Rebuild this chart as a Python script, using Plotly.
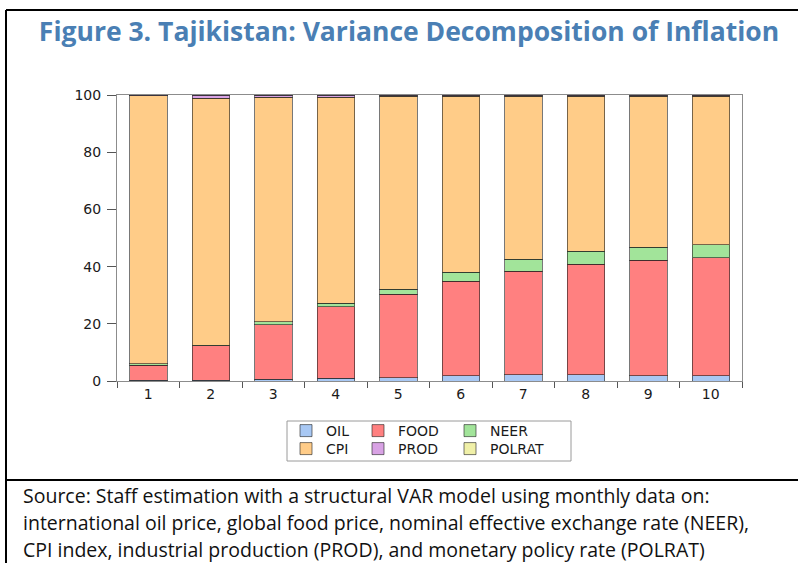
import plotly.graph_objects as go

# Forecast horizon (months)
periods = ["1", "2", "3", "4", "5", "6", "7", "8", "9", "10"]

# Share of inflation forecast-error variance explained by each shock (%)
oil = [0.2, 0.2, 0.7, 0.9, 1.2, 1.9, 2.2, 2.2, 1.9, 1.9]
food = [5.3, 12.1, 18.9, 25.0, 29.1, 32.9, 36.2, 38.6, 40.3, 41.2]
neer = [0.5, 0.2, 1.2, 1.3, 1.7, 3.3, 4.2, 4.5, 4.6, 4.6]
prod = [0.1, 1.0, 0.7, 0.6, 0.4, 0.3, 0.3, 0.3, 0.3, 0.3]
polrat = [0.1, 0.1, 0.1, 0.1, 0.1, 0.1, 0.1, 0.1, 0.1, 0.1]
cpi = [round(100 - o - f - n - p - r, 1) for o, f, n, p, r in zip(oil, food, neer, prod, polrat)]

# name, values, fill colour, legend id (one legend per key cell: 3 columns x 2 rows)
series = [
    ("OIL", oil, "#a8c8f4", "legend"),
    ("FOOD", food, "#ff8080", "legend2"),
    ("NEER", neer, "#a2e49a", "legend3"),
    ("CPI", cpi, "#ffcc88", "legend4"),
    ("PROD", prod, "#d8a2e4", "legend5"),
    ("POLRAT", polrat, "#f0f0a8", "legend6"),
]

# Page geometry in pixels, converted to paper coordinates
W, H = 798, 563
PL, PR, PT, PB = 117, 742, 95, 381


def px(x):
    return (x - PL) / (PR - PL)


def py(y):
    return (PB - y) / (PB - PT)


fig = go.Figure()
for name, vals, color, leg in series:
    fig.add_trace(go.Bar(
        x=periods, y=vals, name=name, legend=leg,
        marker=dict(color=color, line=dict(color="rgba(30,30,30,0.6)", width=1)),
        width=0.6,
    ))

axis_font = dict(family="DejaVu Sans", size=14, color="#1a1a1a")
legend_font = dict(family="DejaVu Sans", size=14, color="#1a1a1a")

# key cell positions (left x, top y) in pixels
key_cols = [286, 358, 450]
key_rows = [415, 433]
legend_layout = {}
for i, (_, _, _, leg) in enumerate(series):
    legend_layout[leg] = dict(
        orientation="h",
        x=px(key_cols[i % 3]), y=py(key_rows[i // 3]),
        xanchor="left", yanchor="top",
        font=legend_font, bgcolor="rgba(0,0,0,0)", borderwidth=0,
        itemclick=False, itemdoubleclick=False,
    )

fig.update_layout(
    width=W, height=H,
    margin=dict(l=PL, r=W - PR, t=PT, b=H - PB, pad=0),
    paper_bgcolor="white", plot_bgcolor="white",
    barmode="stack",
    showlegend=True,
    title=dict(
        text="<b>Figure 3. Tajikistan: Variance Decomposition of Inflation</b>",
        font=dict(family="Open Sans", size=26.5, color="#4a7fb4"),
        x=px(409), xref="paper", xanchor="center",
        y=1 - 32 / H, yref="container", yanchor="middle",
    ),
    xaxis=dict(
        type="category", range=[-0.5, 9.5],
        showline=True, linecolor="#8c8c8c", linewidth=1, mirror=True,
        ticks="outside", tickson="boundaries", ticklen=6, tickcolor="#555555",
        tickfont=axis_font, showgrid=False, zeroline=False,
    ),
    yaxis=dict(
        range=[0, 100], tickvals=[0, 20, 40, 60, 80, 100],
        showline=True, linecolor="#8c8c8c", linewidth=1, mirror=True,
        ticks="outside", ticklen=9, tickcolor="#555555", ticklabelstandoff=3,
        tickfont=axis_font, showgrid=False, zeroline=False,
    ),
    **legend_layout,
)

# Legend frame, outer figure frame and the divider above the source note
frame_line = dict(color="black", width=2)
fig.add_shape(type="rect", xref="paper", yref="paper",
              x0=px(287), x1=px(571), y0=py(461), y1=py(421),
              line=dict(color="#9a9a9a", width=1))
fig.add_shape(type="line", xref="paper", yref="paper",
              x0=px(6), x1=px(800), y0=py(10), y1=py(10), line=frame_line)
fig.add_shape(type="line", xref="paper", yref="paper",
              x0=px(6), x1=px(6), y0=py(10), y1=py(565), line=frame_line)
fig.add_shape(type="line", xref="paper", yref="paper",
              x0=px(6), x1=px(800), y0=py(480), y1=py(480), line=frame_line)

source_lines = [
    "Source: Staff estimation with a structural VAR model using monthly data on:",
    "international oil price, global food price, nominal effective exchange rate (NEER),",
    "CPI index, industrial production (PROD), and monetary policy rate (POLRAT)",
]
for i, line in enumerate(source_lines):
    fig.add_annotation(
        text=line, xref="paper", yref="paper",
        x=px(21), y=py(495 + 27 * i), xanchor="left", yanchor="middle",
        showarrow=False, align="left",
        font=dict(family="Open Sans", size=19.5, color="#111111"),
    )

fig.write_html("out.html")
